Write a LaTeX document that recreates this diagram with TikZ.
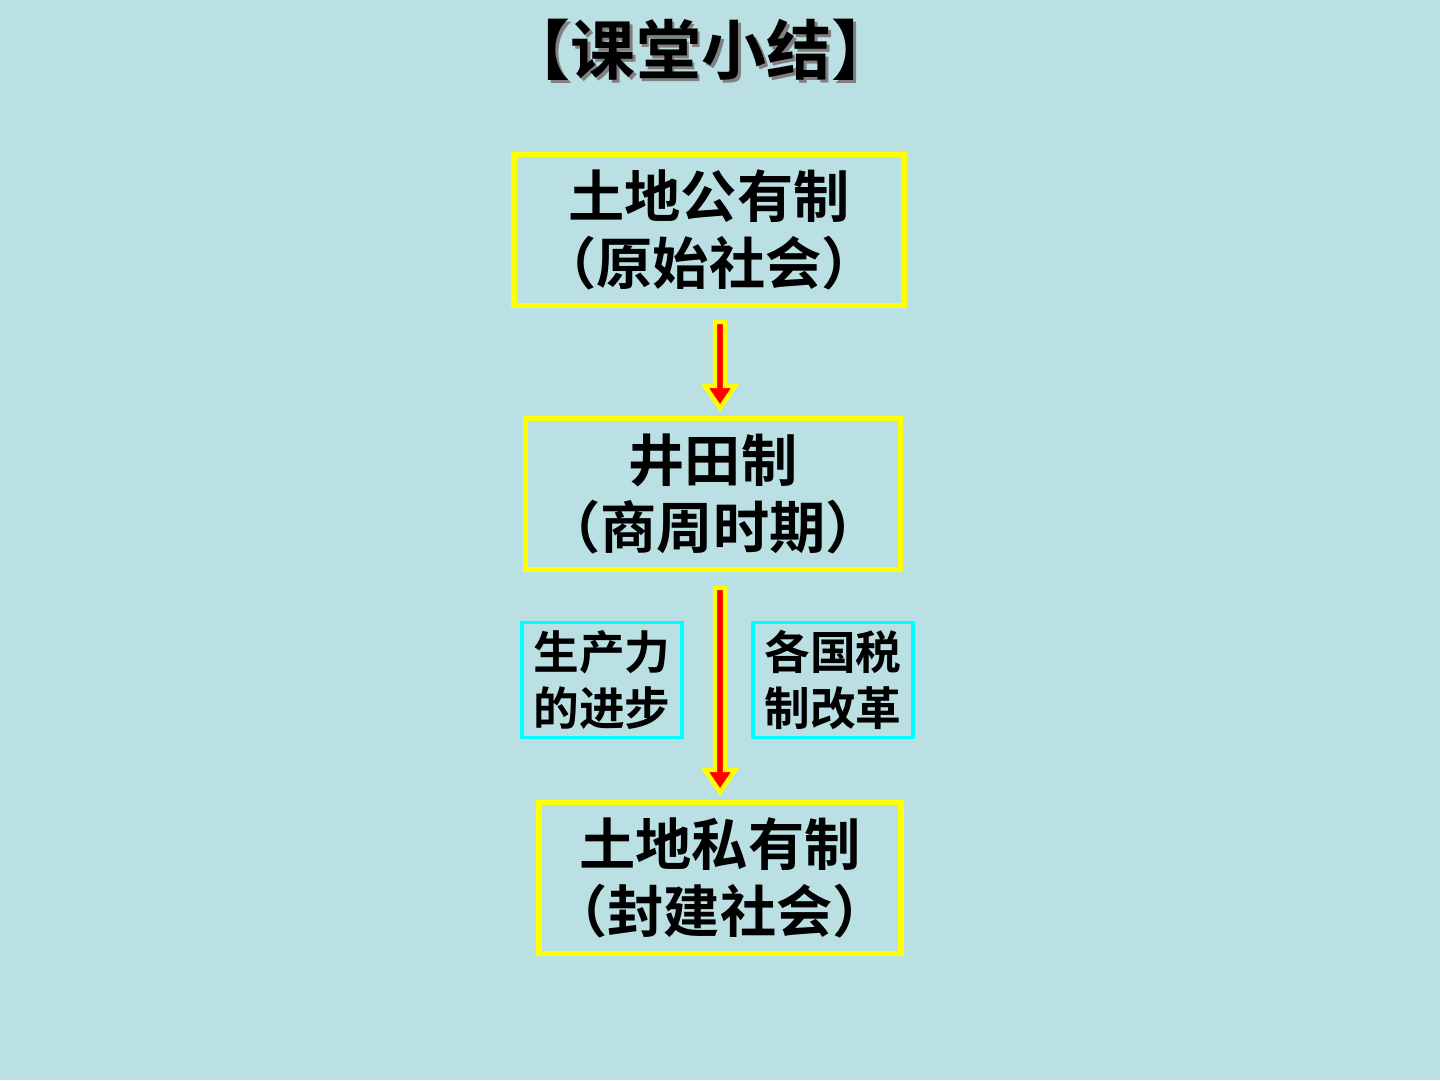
\documentclass[tikz,border=0pt]{standalone}
\usepackage{fontspec}
\newfontfamily\cjk{Noto Sans CJK SC Bold}
\definecolor{bg}{RGB}{187,224,227}
\definecolor{yel}{RGB}{255,255,0}
\definecolor{cy}{RGB}{0,255,255}
\begin{document}
\begin{tikzpicture}[x=0.02cm,y=-0.02cm,
  big/.style={draw=yel,line width=3pt,minimum width=#1*0.02cm,minimum height=151*0.02cm,align=center,font=\cjk\fontsize{32}{38}\selectfont,inner sep=0pt},
  small/.style={draw=cy,line width=1.8pt,minimum width=160*0.02cm,minimum height=115*0.02cm,align=center,font=\cjk\fontsize{26}{32}\selectfont,inner sep=0pt},
  arr/.style={fill=red,draw=yel,line width=2.5pt,line join=miter},
  ttl/.style={font=\cjk\fontsize{37}{40}\selectfont}]
\fill[bg] (0,0) rectangle (1440,1080);
\node[ttl,text=gray] (tsh) at (704,53) {【课堂小结】};
\node[ttl] (t) at (701,50) {【课堂小结】};
\node[big=390] (a) at (709,230) {土地公有制\\（原始社会）};
\node[big=375] (b) at (713,494) {井田制\\（商周时期）};
\node[big=362] (c) at (720,878) {土地私有制\\（封建社会）};
\node[small] (l) at (602,680) {生产力\\的进步};
\node[small] (r) at (833,680) {各国税\\制改革};
\coordinate (a1) at (720,322);
\coordinate (a2) at (720,408);
\coordinate (b1) at (720,588);
\coordinate (b2) at (720,792);
\draw[arr] ([xshift=-5*0.02cm]a1) -- ([xshift=5*0.02cm]a1) -- ([xshift=5*0.02cm,yshift=22*0.02cm]a2) -- ([xshift=15*0.02cm,yshift=22*0.02cm]a2) -- (a2) -- ([xshift=-15*0.02cm,yshift=22*0.02cm]a2) -- ([xshift=-5*0.02cm,yshift=22*0.02cm]a2) -- cycle;
\draw[arr] ([xshift=-5*0.02cm]b1) -- ([xshift=5*0.02cm]b1) -- ([xshift=5*0.02cm,yshift=22*0.02cm]b2) -- ([xshift=15*0.02cm,yshift=22*0.02cm]b2) -- (b2) -- ([xshift=-15*0.02cm,yshift=22*0.02cm]b2) -- ([xshift=-5*0.02cm,yshift=22*0.02cm]b2) -- cycle;
\end{tikzpicture}
\end{document}
